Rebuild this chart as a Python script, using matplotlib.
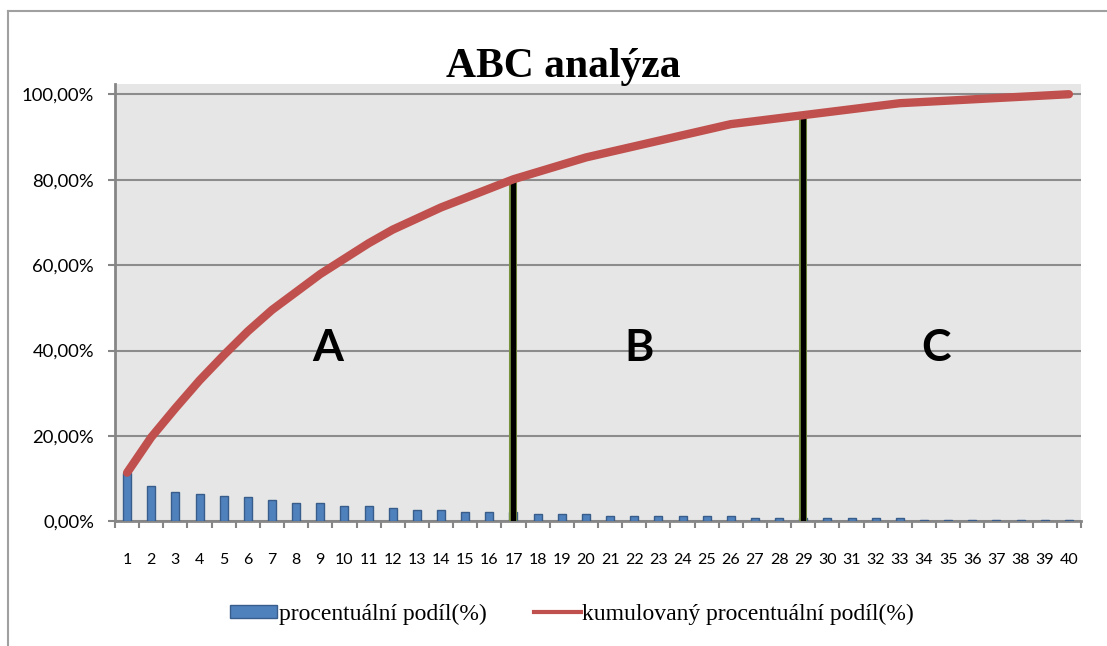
import numpy as np
import matplotlib
matplotlib.use("Agg")
import matplotlib.pyplot as plt
from matplotlib.lines import Line2D
from matplotlib.patches import Patch
from matplotlib.ticker import FixedLocator, FuncFormatter

# Items ordered by share, percent of the total
items = list(range(1, 41))
share = [11.4, 8.3, 6.8, 6.5, 5.9, 5.6, 5.0, 4.2, 4.2, 3.6,
         3.6, 3.2, 2.6, 2.6, 2.2, 2.2, 2.2, 1.7, 1.7, 1.7,
         1.3, 1.3, 1.3, 1.3, 1.3, 1.3, 0.7, 0.7, 0.7, 0.7,
         0.7, 0.7, 0.7, 0.3, 0.3, 0.3, 0.3, 0.3, 0.3, 0.3]
cumulative = np.cumsum(share)

# Group boundaries (last item of groups A and B) and group labels
boundaries = [17, 29]
groups = ["A", "B", "C"]
group_pos = [9.3, 22.2, 34.5]

title = "ABC analýza"
bar_label = "procentuální podíl(%)"
line_label = "kumulovaný procentuální podíl(%)"
y_ticks = [0, 20, 40, 60, 80, 100]

bar_color = "#4f81bd"
bar_edge = "#385d8a"
line_color = "#c0504d"
grid_color = "#8c8c8c"
axis_color = "#868686"

fig = plt.figure(figsize=(11.07, 6.46), dpi=100)
ax = fig.add_axes([0.1039, 0.1929, 0.8726, 0.6771])
ax.set_facecolor("#e6e6e6")

ax.bar(items, share, width=0.33, color=bar_color, edgecolor=bar_edge,
       linewidth=1.0, zorder=3)

for b in boundaries:
    top = cumulative[b - 1]
    ax.plot([b, b], [0, top], color="#77933c", linewidth=5.8,
            solid_capstyle="butt", zorder=4)
    ax.plot([b, b], [0, top], color="black", linewidth=3.8,
            solid_capstyle="butt", zorder=4)

ax.plot(items, cumulative, color=line_color, linewidth=6,
        solid_capstyle="round", solid_joinstyle="round", zorder=5)

for g, x in zip(groups, group_pos):
    ax.text(x, 40.6, g, fontsize=32, fontweight="bold", family="Lato",
            ha="center", va="center", zorder=6)

ax.set_xlim(0.5, 40.5)
ax.set_ylim(0, 102.4)

ax.yaxis.set_major_locator(FixedLocator(y_ticks))
ax.yaxis.set_major_formatter(
    FuncFormatter(lambda v, p: f"{v:.2f}%".replace(".", ",")))
ax.grid(axis="y", color=grid_color, linewidth=1.5, zorder=1)
ax.set_axisbelow(True)

ax.set_xticks(items)
ax.set_xticklabels([str(i) for i in items])
ax.set_xticks(np.arange(0.5, 41, 1), minor=True)
ax.tick_params(axis="x", which="major", length=0, pad=23, labelsize=11.5,
               labelfontfamily="Lato")
ax.tick_params(axis="x", which="minor", length=5, width=1.5,
               color=axis_color, direction="out")
ax.tick_params(axis="y", which="major", length=5, width=1.5,
               color=axis_color, pad=10, labelsize=13.3,
               labelfontfamily="Lato")

for side in ["top", "right"]:
    ax.spines[side].set_visible(False)
for side in ["left", "bottom"]:
    ax.spines[side].set_color(axis_color)
    ax.spines[side].set_linewidth(2)

# Chart frame edges
fig.add_artist(Line2D([8 / 1107, 8 / 1107], [0, 1 - 11 / 646],
                      transform=fig.transFigure, color="#a0a0a0", linewidth=1.5))
fig.add_artist(Line2D([8 / 1107, 1], [1 - 11 / 646, 1 - 11 / 646],
                      transform=fig.transFigure, color="#a0a0a0", linewidth=1.5))

fig.text(563 / 1107, 1 - 77 / 646, title, family="Liberation Serif",
         fontweight="bold", fontsize=30, ha="center", va="baseline")

handles = [Patch(facecolor=bar_color, edgecolor=bar_edge, linewidth=1.0),
           Line2D([0], [0], color=line_color, linewidth=3)]
fig.legend(handles, [bar_label, line_label], loc="center",
           bbox_to_anchor=(572 / 1107, 1 - 614 / 646), ncol=2, frameon=False,
           prop={"family": "Liberation Serif", "size": 17},
           handlelength=2.0, handleheight=0.45, handletextpad=0.05,
           columnspacing=2.0)

fig.savefig("out.png", dpi=100)
